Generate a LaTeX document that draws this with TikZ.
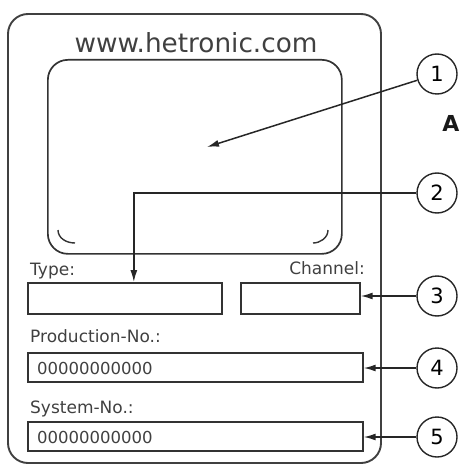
\documentclass[tikz,border=0pt]{standalone}
\usepackage{fontspec}
\setmainfont{DejaVu Sans}
\usetikzlibrary{arrows.meta,calc}
\begin{document}
\begin{tikzpicture}[x=1pt,y=-1pt,
 frame/.style={draw=black!75, line width=1.9pt},
 field/.style={draw=black!80, line width=1.7pt, rectangle, inner sep=0pt, anchor=north west},
 lab/.style={inner sep=0pt, text=black!75, font=\fontsize{17}{17}\selectfont},
 digits/.style={anchor=base west, inner sep=0pt, text=black!75, font=\fontsize{16.5}{16.5}\selectfont},
 num/.style={circle, draw=black!85, line width=1.4pt, minimum size=40pt, inner sep=0pt, font=\fontsize{21}{21}\selectfont},
 arr/.style={draw=black!85, line width=1.5pt, -{Latex[length=12pt,width=7pt]}},
]
\clip (0,0) rectangle (460,465);
% outer housing
\draw[frame, rounded corners=20pt] (8,14) rectangle (381,463);
\node[font=\fontsize{26.3}{26.3}\selectfont, text=black!75, anchor=base, inner sep=0pt] (url) at (196,53) {www.hetronic.com};
% display
\node[field, rounded corners=20pt, minimum width=294pt, minimum height=194pt] (disp) at (47,59) {};
\draw[black!80, line width=1.4pt] (58,230) .. controls (58,238) and (66,243) .. (75,243);
\draw[black!80, line width=1.4pt] (328,230) .. controls (328,238) and (320,243) .. (313,243);
% fields
\node[lab, anchor=base west] (typel) at (30,275) {Type:};
\node[lab, anchor=base east] (chanl) at (365,274) {Channel:};
\node[field, minimum width=194pt, minimum height=31pt] (type) at (27,282) {};
\node[field, minimum width=119pt, minimum height=31pt] (chan) at (240,282) {};
\node[lab, anchor=base west] (prodl) at (30,342) {Production-No.:};
\node[field, minimum width=335pt, minimum height=29pt] (prod) at (27,352) {};
\node[digits] (prodn) at (37,374) {00000000000};
\node[lab, anchor=base west] (sysl) at (30,413) {System-No.:};
\node[field, minimum width=335pt, minimum height=29pt] (sys) at (27,421) {};
\node[digits] (sysn) at (37,443) {00000000000};
% callouts
\node[num] (c1) at (437,74) {1};
\node[num] (c2) at (437,193) {2};
\node[num] (c3) at (437,296) {3};
\node[num] (c4) at (437,368) {4};
\node[num] (c5) at (437,437) {5};
\node[anchor=base east, inner sep=0pt, font=\bfseries\fontsize{22}{22}\selectfont, text=black!90] (A) at (459.5,132) {A};
\coordinate (p1) at (207,147);
\draw[arr] (c1) -- (p1);
\draw[arr] (c2.west) -| ([xshift=9pt]type.north);
\draw[arr] (c3.west) -- (c3.west -| chan.east);
\draw[arr] (c4.west) -- (c4.west -| prod.east);
\draw[arr] (c5.west) -- (c5.west -| sys.east);
\end{tikzpicture}
\end{document}
